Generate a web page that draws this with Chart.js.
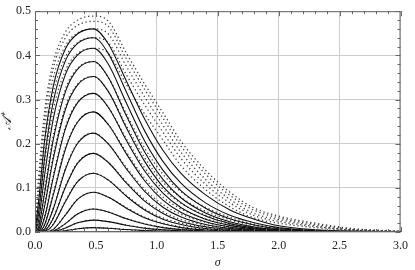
<!DOCTYPE html>
<html>
<head>
<meta charset="utf-8">
<script src="https://cdn.jsdelivr.net/npm/chart.js@4.4.1/dist/chart.umd.min.js"></script>
<style>
  html, body { margin: 0; padding: 0; background: #fff; }
  #wrap { width: 415px; height: 270px; }
</style>
</head>
<body>
<div id="wrap"><canvas id="chart" width="415" height="270"></canvas></div>
<script>
// sigma grid shared by all curves
const sigma = [0, 0.03, 0.08, 0.15, 0.25, 0.35, 0.48, 0.6, 0.75, 0.9, 1.05, 1.2, 1.4, 1.6, 1.8, 2.0, 2.3, 2.6, 3.0];

// solid curves (top to bottom)
const solid = [
  [0, 0.070, 0.210, 0.330, 0.415, 0.449, 0.460, 0.427, 0.342, 0.256, 0.185, 0.132, 0.084, 0.050, 0.029, 0.014, 0.005, 0.002, 0.001],
  [0, 0.045, 0.170, 0.295, 0.388, 0.427, 0.440, 0.405, 0.317, 0.229, 0.160, 0.110, 0.066, 0.038, 0.021, 0.010, 0.0034, 0.0012, 0.0005],
  [0, 0.026, 0.131, 0.256, 0.357, 0.401, 0.416, 0.381, 0.292, 0.206, 0.140, 0.093, 0.054, 0.030, 0.016, 0.0072, 0.0024, 0.0008, 0.0003],
  [0, 0.012, 0.090, 0.209, 0.318, 0.369, 0.386, 0.351, 0.263, 0.181, 0.119, 0.077, 0.043, 0.023, 0.011, 0.005, 0.0016, 0.0005, 0.0002],
  [0, 0.005, 0.060, 0.166, 0.278, 0.333, 0.352, 0.319, 0.236, 0.160, 0.103, 0.066, 0.036, 0.019, 0.009, 0.0039, 0.0012, 0.0004, 0.0001],
  [0, 0.0015, 0.034, 0.123, 0.234, 0.293, 0.314, 0.283, 0.207, 0.138, 0.088, 0.055, 0.029, 0.015, 0.007, 0.0029, 0.0009, 0.0003, 0.0001],
  [0, 0.0003, 0.017, 0.084, 0.188, 0.249, 0.272, 0.244, 0.177, 0.116, 0.072, 0.044, 0.023, 0.011, 0.005, 0.0021, 0.0007, 0.0002, 0.0001],
  [0, 0, 0.007, 0.052, 0.142, 0.201, 0.224, 0.200, 0.143, 0.092, 0.056, 0.034, 0.017, 0.008, 0.0037, 0.0015, 0.0005, 0.0002, 0],
  [0, 0, 0.0027, 0.031, 0.102, 0.156, 0.178, 0.158, 0.111, 0.070, 0.042, 0.024, 0.012, 0.0058, 0.0024, 0.0009, 0.0003, 0.0001, 0],
  [0, 0, 0.001, 0.017, 0.069, 0.114, 0.133, 0.118, 0.081, 0.050, 0.029, 0.017, 0.0078, 0.0037, 0.0015, 0.0005, 0.0002, 0, 0],
  [0, 0, 0.0001, 0.006, 0.0385, 0.074, 0.090, 0.079, 0.054, 0.032, 0.0185, 0.010, 0.0047, 0.0021, 0.0009, 0.0003, 0.0001, 0, 0],
  [0, 0, 0, 0.0021, 0.019, 0.041, 0.052, 0.0455, 0.030, 0.018, 0.0099, 0.0054, 0.0024, 0.001, 0.0004, 0.0001, 0, 0, 0],
  [0, 0, 0, 0.0008, 0.009, 0.021, 0.027, 0.0234, 0.0154, 0.0088, 0.0048, 0.0025, 0.001, 0.0004, 0.0001, 0, 0, 0, 0],
  [0, 0, 0, 0.0002, 0.003, 0.0075, 0.010, 0.0086, 0.0055, 0.0031, 0.0016, 0.0008, 0.0003, 0.0001, 0, 0, 0, 0, 0]
];

// dotted curves: the top ones spread wide, the lower ones hug the solid lines
const dotted = [
  [0, 0.124, 0.276, 0.384, 0.453, 0.480, 0.489, 0.478, 0.405, 0.335, 0.270, 0.205, 0.140, 0.090, 0.054, 0.036, 0.020, 0.008, 0.002],
  [0, 0.112, 0.260, 0.370, 0.440, 0.468, 0.477, 0.466, 0.392, 0.323, 0.258, 0.194, 0.131, 0.083, 0.049, 0.032, 0.0175, 0.0066, 0.0016],
  [0, 0.096, 0.239, 0.349, 0.422, 0.451, 0.460, 0.449, 0.375, 0.306, 0.242, 0.180, 0.119, 0.074, 0.042, 0.028, 0.0146, 0.0053, 0.0012],
  [0, 0.066, 0.200, 0.315, 0.396, 0.429, 0.440, 0.429, 0.356, 0.288, 0.226, 0.166, 0.108, 0.066, 0.037, 0.024, 0.0123, 0.0043, 0.001],
  [0, 0.042, 0.159, 0.277, 0.366, 0.404, 0.416, 0.405, 0.334, 0.267, 0.208, 0.150, 0.096, 0.057, 0.0315, 0.020, 0.0099, 0.0033, 0.0007],
  [0, 0.0144, 0.099, 0.219, 0.324, 0.371, 0.386, 0.351, 0.268, 0.190, 0.131, 0.091, 0.056, 0.0334, 0.0176, 0.009, 0.0032, 0.0011, 0.0004],
  [0, 0.006, 0.066, 0.174, 0.284, 0.335, 0.352, 0.319, 0.241, 0.168, 0.113, 0.078, 0.047, 0.0276, 0.0144, 0.007, 0.0024, 0.0009, 0.0002],
  [0, 0.0018, 0.0374, 0.129, 0.239, 0.294, 0.314, 0.283, 0.211, 0.145, 0.097, 0.065, 0.038, 0.0218, 0.0112, 0.0052, 0.0018, 0.0007, 0.0002],
  [0, 0.0004, 0.0187, 0.088, 0.192, 0.250, 0.272, 0.244, 0.181, 0.122, 0.079, 0.052, 0.030, 0.016, 0.008, 0.0038, 0.0014, 0.0004, 0.0002],
  [0, 0, 0.0077, 0.055, 0.145, 0.202, 0.224, 0.200, 0.146, 0.097, 0.062, 0.040, 0.022, 0.0116, 0.0059, 0.0027, 0.001, 0.0004, 0],
  [0, 0, 0.003, 0.0326, 0.104, 0.157, 0.178, 0.158, 0.113, 0.0735, 0.046, 0.028, 0.0156, 0.0084, 0.0038, 0.0016, 0.0006, 0.0002, 0],
  [0, 0, 0.0011, 0.0179, 0.0704, 0.1146, 0.133, 0.118, 0.0826, 0.0525, 0.0319, 0.020, 0.0101, 0.0054, 0.0024, 0.0009, 0.0004, 0.0001, 0],
  [0, 0, 0.0001, 0.0063, 0.0393, 0.0744, 0.090, 0.079, 0.0551, 0.0336, 0.0204, 0.0118, 0.0061, 0.003, 0.0014, 0.0005, 0.0002, 0, 0],
  [0, 0, 0, 0.0022, 0.0194, 0.0412, 0.052, 0.0455, 0.0306, 0.0189, 0.0109, 0.0064, 0.0031, 0.0015, 0.0006, 0.0002, 0, 0, 0],
  [0, 0, 0, 0.0008, 0.0092, 0.0211, 0.027, 0.0234, 0.0157, 0.0092, 0.0053, 0.003, 0.0013, 0.0006, 0.0002, 0.0001, 0, 0, 0],
  [0, 0, 0, 0.0002, 0.0031, 0.0075, 0.010, 0.0086, 0.0056, 0.0033, 0.0018, 0.0009, 0.0004, 0.0001, 0, 0, 0, 0, 0]
];

const xTicks = [0, 0.5, 1.0, 1.5, 2.0, 2.5, 3.0];
const yTicks = [0, 0.1, 0.2, 0.3, 0.4, 0.5];

function toPoints(row) {
  return row.map((v, i) => ({ x: sigma[i], y: v }));
}

const datasets = [];
solid.forEach(row => {
  datasets.push({
    data: toPoints(row),
    borderColor: '#111',
    borderWidth: 1.1,
    pointRadius: 0,
    cubicInterpolationMode: 'monotone',
    fill: false
  });
});
dotted.forEach(row => {
  datasets.push({
    data: toPoints(row),
    borderColor: '#444',
    borderWidth: 1.3,
    borderDash: [1.3, 2.7],
    pointRadius: 0,
    cubicInterpolationMode: 'monotone',
    fill: false
  });
});

// frame with inward ticks on all four sides
const frameTicks = {
  id: 'frameTicks',
  afterDatasetsDraw(chart) {
    const { ctx, chartArea: a, scales: { x, y } } = chart;
    ctx.save();
    ctx.strokeStyle = '#666';
    ctx.lineWidth = 1;
    ctx.strokeRect(a.left + 0.5, a.top + 0.5, a.right - a.left - 1, a.bottom - a.top - 1);
    ctx.beginPath();
    for (let i = 0; i <= 30; i++) {
      const px = Math.round(x.getPixelForValue(i / 10)) + 0.5;
      const len = i % 5 === 0 ? 5 : 3;
      ctx.moveTo(px, a.bottom); ctx.lineTo(px, a.bottom - len);
      ctx.moveTo(px, a.top); ctx.lineTo(px, a.top + len);
    }
    for (let i = 0; i <= 25; i++) {
      const py = Math.round(y.getPixelForValue(i * 0.02)) + 0.5;
      const len = i % 5 === 0 ? 5 : 3;
      ctx.moveTo(a.left, py); ctx.lineTo(a.left + len, py);
      ctx.moveTo(a.right, py); ctx.lineTo(a.right - len, py);
    }
    ctx.stroke();
    ctx.restore();
  }
};

const font = { family: 'Liberation Serif', size: 12 };

new Chart(document.getElementById('chart'), {
  type: 'line',
  data: { datasets },
  options: {
    responsive: false,
    animation: false,
    devicePixelRatio: 1,
    layout: { padding: { top: 5, right: 6, left: 0, bottom: 0 } },
    plugins: { legend: { display: false }, tooltip: { enabled: false } },
    scales: {
      x: {
        type: 'linear',
        min: 0, max: 3,
        afterBuildTicks: s => { s.ticks = xTicks.map(v => ({ value: v })); },
        afterFit: s => { s.height = 38; },
        border: { display: false },
        grid: { color: '#ccc', lineWidth: 1, drawTicks: false },
        ticks: { font, color: '#222', padding: 7, callback: v => v.toFixed(1) },
        title: { display: true, text: 'σ', font: { family: 'Liberation Serif', size: 12, style: 'italic' }, color: '#222', padding: { top: 0, bottom: 0 } }
      },
      y: {
        type: 'linear',
        min: 0, max: 0.5,
        afterBuildTicks: s => { s.ticks = yTicks.map(v => ({ value: v })); },
        afterFit: s => { s.width = 35; },
        border: { display: false },
        grid: { color: '#ccc', lineWidth: 1, drawTicks: false },
        ticks: { font, color: '#222', padding: 4, callback: v => v.toFixed(1) },
        title: { display: true, text: '𝒜⁺', font: { family: 'Liberation Serif', size: 13, style: 'italic' }, color: '#222', padding: { top: 0, bottom: 0 } }
      }
    }
  },
  plugins: [frameTicks]
});
</script>
</body>
</html>
